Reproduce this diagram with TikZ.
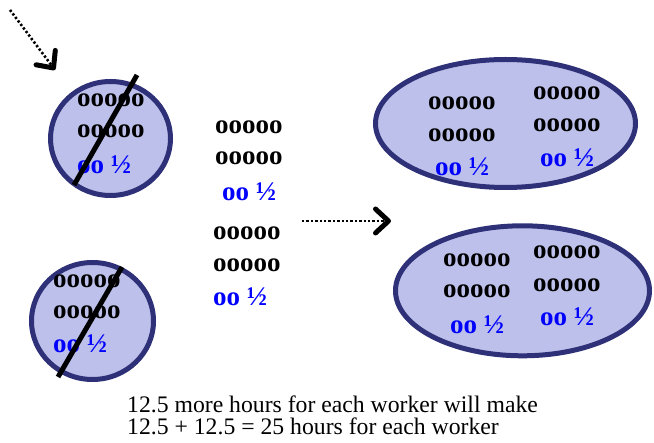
\documentclass[tikz,border=0pt]{standalone}
\usepackage{fontspec}
\setmainfont{Liberation Serif}
\usetikzlibrary{arrows.meta}
\definecolor{blobfill}{RGB}{188,192,234}
\definecolor{blobline}{RGB}{46,49,120}
\definecolor{halfblue}{RGB}{0,0,255}
\begin{document}
\begin{tikzpicture}[x=1pt,y=-1pt,
  blob/.style={draw=blobline,fill=blobfill,line width=5pt},
  wk/.style={font=\bfseries\fontsize{27}{27}\selectfont,inner sep=0pt,anchor=base west},
  hf/.style={wk,text=halfblue},
  strike/.style={line width=5pt,black},
  dotarrow/.style={line width=2.6pt,dash pattern=on 2.3pt off 2.1pt,
    -{Straight Barb[length=13pt,width=24pt,line width=5pt,round]}},
  note/.style={font=\fontsize{23.7}{23.7}\selectfont,inner sep=0pt,anchor=base west}]
\useasboundingbox (0,0) rectangle (654,443);
% shapes
\path[blob] (110.5,138.5) ellipse [x radius=60,y radius=57];
\path[blob] (92.5,321) ellipse [x radius=61,y radius=58.5];
\path[blob] (505.5,123.5) ellipse [x radius=130,y radius=64];
\path[blob] (522.5,290.8) ellipse [x radius=127,y radius=65];
% circle 1
\node[wk] (c1a) at (77,106.5) {ooooo};
\node[wk] (c1b) at (77,138) {ooooo};
\node[hf] (c1c) at (77,174) {oo ½};
% circle 2
\node[wk] (c2a) at (53,288) {ooooo};
\node[wk] (c2b) at (53,319) {ooooo};
\node[hf] (c2c) at (53,353) {oo ½};
% middle
\node[wk] (m1a) at (215,134) {ooooo};
\node[wk] (m1b) at (215,165) {ooooo};
\node[hf] (m1c) at (222,201) {oo ½};
\node[wk] (m2a) at (213,240) {ooooo};
\node[wk] (m2b) at (213,272) {ooooo};
\node[hf] (m2c) at (213,306) {oo ½};
% ellipse 1
\node[wk] (e1a) at (428,110) {ooooo};
\node[wk] (e1b) at (428,141.7) {ooooo};
\node[hf] (e1c) at (435,176) {oo ½};
\node[wk] (e1d) at (533,100) {ooooo};
\node[wk] (e1e) at (533,132) {ooooo};
\node[hf] (e1f) at (540,167) {oo ½};
% ellipse 2
\node[wk] (e2a) at (443,266.7) {ooooo};
\node[wk] (e2b) at (443,298) {ooooo};
\node[hf] (e2c) at (450,334) {oo ½};
\node[wk] (e2d) at (533,259) {ooooo};
\node[wk] (e2e) at (533,291.7) {ooooo};
\node[hf] (e2f) at (540,326) {oo ½};
% strike lines
\coordinate (s1a) at (137,75);
\coordinate (s1b) at (74,185);
\coordinate (s2a) at (122,267);
\coordinate (s2b) at (58,377);
\draw[strike] (s1a) -- (s1b);
\draw[strike] (s2a) -- (s2b);
% arrows
\coordinate (a1s) at (10,10);
\coordinate (a1e) at (55,70);
\coordinate (a2s) at (302,221);
\coordinate (a2e) at (391,221);
\draw[dotarrow] (a1s) -- (a1e);
\draw[dotarrow] (a2s) -- (a2e);
% caption
\node[note] (t1) at (127,413) {12.5 more hours for each worker will make};
\node[note] (t2) at (127,434.5) {12.5 + 12.5 = 25 hours for each worker};
\end{tikzpicture}
\end{document}
